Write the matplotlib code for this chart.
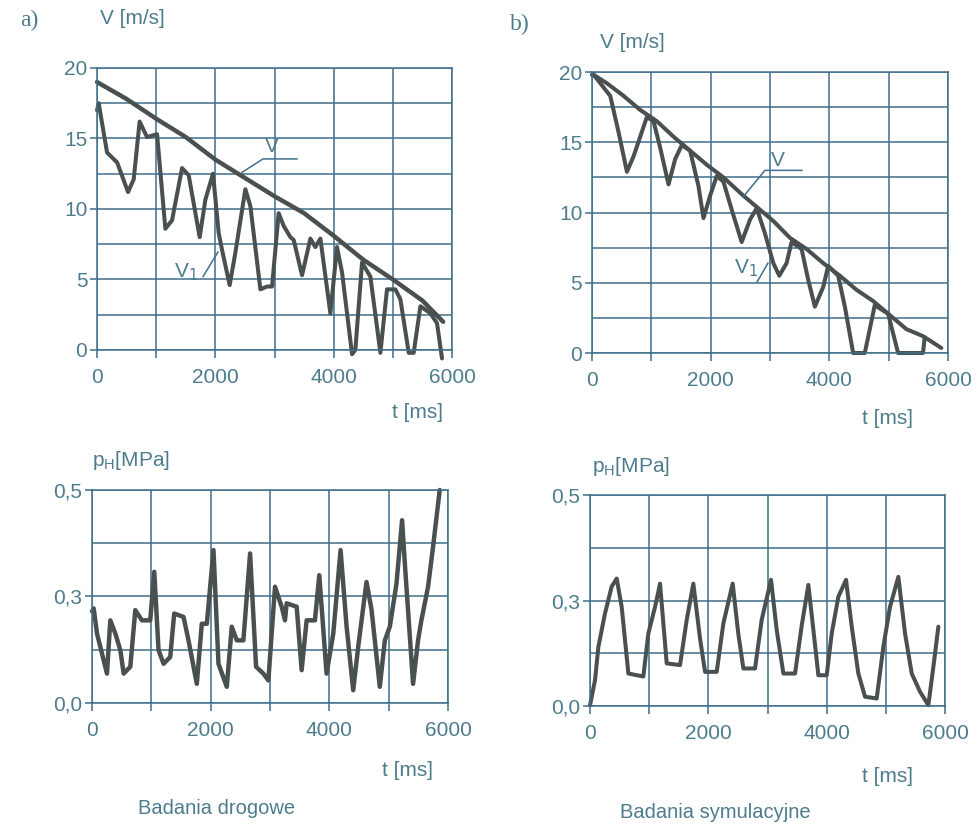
import numpy as np
import matplotlib.pyplot as plt

plt.rcParams['font.family'] = ['Liberation Sans', 'DejaVu Sans']

# ---- data: road test (a) ----
t_va = [0, 500, 1000, 1500, 2000, 2500, 3000, 3500, 4000, 4500, 5000, 5500, 5850]
va = [19.0, 17.8, 16.4, 15.1, 13.5, 12.2, 10.9, 9.7, 8.1, 6.4, 5.0, 3.5, 2.0]

t_v1a = [0, 28, 170, 340, 524, 620, 720, 845, 1015, 1155, 1268, 1437, 1549, 1735, 1831,
         1960, 2056, 2113, 2242, 2338, 2507, 2592, 2761, 2873, 2958, 3070, 3155, 3268,
         3324, 3465, 3606, 3690, 3775, 3944, 4056, 4141, 4310, 4366, 4479, 4620, 4789,
         4901, 5042, 5127, 5268, 5352, 5465, 5634, 5746, 5831]
v1a = [17.0, 17.5, 14.0, 13.3, 11.2, 12.1, 16.2, 15.1, 15.3, 8.6, 9.2, 12.9, 12.4, 8.0, 10.65,
       12.5, 8.3, 7.1, 4.6, 6.9, 11.4, 10.2, 4.3, 4.5, 4.5, 9.7, 8.8, 8.0,
       7.8, 5.3, 7.9, 7.3, 7.9, 2.6, 7.3, 5.5, -0.3, 0.0, 6.2, 5.2, -0.2,
       4.3, 4.3, 3.6, -0.2, -0.2, 3.1, 2.6, 1.9, -0.6]

t_pa = [0, 28, 84, 168, 252, 308, 393, 477, 533, 645, 729, 841, 981, 1049, 1121, 1206, 1318,
        1385, 1542, 1626, 1766, 1850, 1935, 2047, 2131, 2271, 2355, 2439, 2551, 2664, 2765,
        2888, 2972, 3084, 3196, 3252, 3280, 3449, 3533, 3617, 3757, 3830, 3953, 4066, 4189,
        4290, 4402, 4486, 4626, 4710, 4850, 4935, 5019, 5131, 5226, 5271, 5411, 5495, 5551,
        5664, 5748, 5860]
pa = [0.215, 0.222, 0.163, 0.116, 0.069, 0.194, 0.163, 0.124, 0.069, 0.085, 0.218, 0.194,
      0.194, 0.308, 0.124, 0.092, 0.108, 0.21, 0.202, 0.147, 0.045, 0.186, 0.186, 0.359,
      0.092, 0.038, 0.179, 0.147, 0.147, 0.351, 0.085, 0.069, 0.053, 0.273, 0.226, 0.194,
      0.234, 0.226, 0.077, 0.194, 0.194, 0.30, 0.069, 0.163, 0.359, 0.18, 0.030, 0.132,
      0.284, 0.22, 0.038, 0.147, 0.179, 0.28, 0.429, 0.33, 0.045, 0.147, 0.194, 0.273,
      0.367, 0.5]

# ---- data: simulation (b) ----
t_vb = [0, 28, 252, 533, 813, 1093, 1374, 1654, 1935, 2215, 2551, 2776, 3056, 3336, 3617,
        3897, 4178, 4458, 4738, 5019, 5299, 5579, 5888]
vb = [19.8, 19.8, 19.2, 18.3, 17.3, 16.5, 15.4, 14.4, 13.4, 12.5, 11.2, 10.4, 9.4, 8.2, 7.4,
      6.4, 5.5, 4.5, 3.7, 2.7, 1.7, 1.2, 0.36]

t_v1b = [0, 28, 308, 449, 589, 701, 925, 1037, 1150, 1290, 1402, 1514, 1654, 1794, 1879,
         1991, 2103, 2215, 2355, 2523, 2664, 2776, 2916, 3056, 3157, 3280, 3364, 3533,
         3645, 3757, 3897, 3981, 4150, 4262, 4402, 4598, 4766, 4991, 5159, 5579, 5607]
v1b = [19.8, 19.8, 18.3, 15.7, 12.9, 14.0, 16.8, 16.5, 14.6, 12.0, 13.8, 14.8, 14.4, 11.9, 9.6,
       11.2, 12.6, 12.2, 10.2, 7.9, 9.5, 10.3, 8.5, 6.4, 5.5, 6.4, 7.9, 7.4,
       5.2, 3.3, 4.7, 6.2, 5.5, 3.3, 0.0, 0.0, 3.4, 2.8, 0.0, 0.0, 1.1]

t_pb = [0, 85, 141, 254, 366, 451, 535, 648, 901, 986, 1099, 1183, 1296, 1521, 1634, 1746,
        1859, 1944, 2141, 2254, 2411, 2507, 2592, 2789, 2901, 3059, 3155, 3268, 3465, 3577,
        3690, 3775, 3859, 4000, 4085, 4197, 4327, 4423, 4535, 4648, 4845, 4958, 5070, 5211,
        5324, 5437, 5577, 5718, 5803, 5887]
pb = [0.002, 0.062, 0.14, 0.22, 0.283, 0.302, 0.235, 0.077, 0.07, 0.172, 0.235, 0.29, 0.101,
      0.097, 0.204, 0.29, 0.16, 0.081, 0.081, 0.196, 0.29, 0.17, 0.089, 0.089, 0.204, 0.299,
      0.18, 0.077, 0.077, 0.19, 0.287, 0.18, 0.073, 0.073, 0.172, 0.259, 0.299, 0.188, 0.077,
      0.022, 0.018, 0.141, 0.235, 0.306, 0.172, 0.077, 0.034, 0.002, 0.093, 0.188]

txt_c = '#4d7c8c'
grid_c = '#3f6f8c'
line_c = '#4a4f50'
fs = 15

fig = plt.figure(figsize=(9.78, 8.25), dpi=100)


def setup(ax, ymax, ystep, ylabels):
    ax.set_xlim(0, 6000)
    ax.set_ylim(0, ymax)
    ax.set_xticks(np.arange(0, 6001, 2000))
    ax.set_xticks(np.arange(0, 6001, 1000), minor=True)
    ax.set_xticklabels(['0', '2000', '4000', '6000'])
    ax.set_yticks(np.arange(0, ymax + 1e-9, ystep), minor=True)
    ax.set_yticks(np.linspace(0, ymax, len(ylabels)))
    ax.set_yticklabels(ylabels)
    ax.grid(True, which='both', color=grid_c, lw=1.1)
    ax.set_axisbelow(True)
    for s in ax.spines.values():
        s.set_color(grid_c)
        s.set_linewidth(1.1)
    ax.tick_params(which='both', colors=grid_c, labelcolor=txt_c, labelsize=fs, width=1.1)
    ax.tick_params(axis='x', which='both', length=6, pad=7)
    ax.tick_params(axis='y', which='major', length=5, pad=2)
    ax.tick_params(axis='y', which='minor', length=0)


def curve(ax, t, v, lw=2.9):
    ax.plot(t, v, color=line_c, lw=lw, clip_on=False,
            solid_joinstyle='round', solid_capstyle='round')


# a) top
ax1 = fig.add_axes([0.0992, 0.5758, 0.363, 0.3418])
setup(ax1, 20, 2.5, ['0', '5', '10', '15', '20'])
curve(ax1, t_va, va, 3.2)
curve(ax1, t_v1a, v1a)
ax1.plot([2451, 2806, 3380], [12.6, 13.55, 13.55], color=grid_c, lw=1.1)
ax1.text(2958, 14.4, 'V', color=txt_c, fontsize=fs, ha='center', va='center')
ax1.plot([1792, 2045], [5.2, 6.95], color=grid_c, lw=1.1)
ax1.text(1500, 5.5, 'V$_1$', color=txt_c, fontsize=fs, ha='center', va='center')

# b) top
ax2 = fig.add_axes([0.6053, 0.5721, 0.364, 0.3406])
setup(ax2, 20, 2.5, ['0', '5', '10', '15', '20'])
curve(ax2, t_vb, vb)
curve(ax2, t_v1b, v1b)
ax2.plot([2545, 2916, 3539], [11.1, 13.0, 13.0], color=grid_c, lw=1.1)
ax2.text(3135, 13.7, 'V', color=txt_c, fontsize=fs, ha='center', va='center')
ax2.plot([2781, 2966], [5.05, 6.4], color=grid_c, lw=1.1)
ax2.text(2600, 6.05, 'V$_1$', color=txt_c, fontsize=fs, ha='center', va='center')

# a) bottom
ax3 = fig.add_axes([0.0941, 0.1479, 0.364, 0.2582])
setup(ax3, 0.5, 0.125, ['0,0', '0,3', '0,5'])
curve(ax3, t_pa, pa, 3.2)

# b) bottom
ax4 = fig.add_axes([0.6033, 0.1442, 0.363, 0.2558])
setup(ax4, 0.5, 0.125, ['0,0', '0,3', '0,5'])
curve(ax4, t_pb, pb)

# labels
fig.text(20 / 978, 1 - 20 / 825, 'a)', family='Liberation Serif', fontsize=17, color=txt_c, va='center')
fig.text(510 / 978, 1 - 24 / 825, 'b)', family='Liberation Serif', fontsize=17, color=txt_c, va='center')
fig.text(100 / 978, 1 - 19 / 825, 'V [m/s]', fontsize=fs, color=txt_c, va='center')
fig.text(600 / 978, 1 - 43 / 825, 'V [m/s]', fontsize=fs, color=txt_c, va='center')
fig.text(418 / 978, 1 - 412 / 825, 't [ms]', fontsize=fs, color=txt_c, ha='center', va='center')
fig.text(888 / 978, 1 - 418 / 825, 't [ms]', fontsize=fs, color=txt_c, ha='center', va='center')
fig.text(92 / 978, 1 - 460 / 825, 'p$_\\mathregular{H}$[MPa]', fontsize=fs, color=txt_c, va='center')
fig.text(592 / 978, 1 - 467 / 825, 'p$_\\mathregular{H}$[MPa]', fontsize=fs, color=txt_c, va='center')
fig.text(408 / 978, 1 - 770 / 825, 't [ms]', fontsize=fs, color=txt_c, ha='center', va='center')
fig.text(888 / 978, 1 - 777 / 825, 't [ms]', fontsize=fs, color=txt_c, ha='center', va='center')
fig.text(217 / 978, 1 - 808 / 825, 'Badania drogowe', fontsize=14.5, color=txt_c, ha='center', va='center')
fig.text(715 / 978, 1 - 812 / 825, 'Badania symulacyjne', fontsize=14.5, color=txt_c, ha='center', va='center')

plt.savefig('out.png', dpi=100)
